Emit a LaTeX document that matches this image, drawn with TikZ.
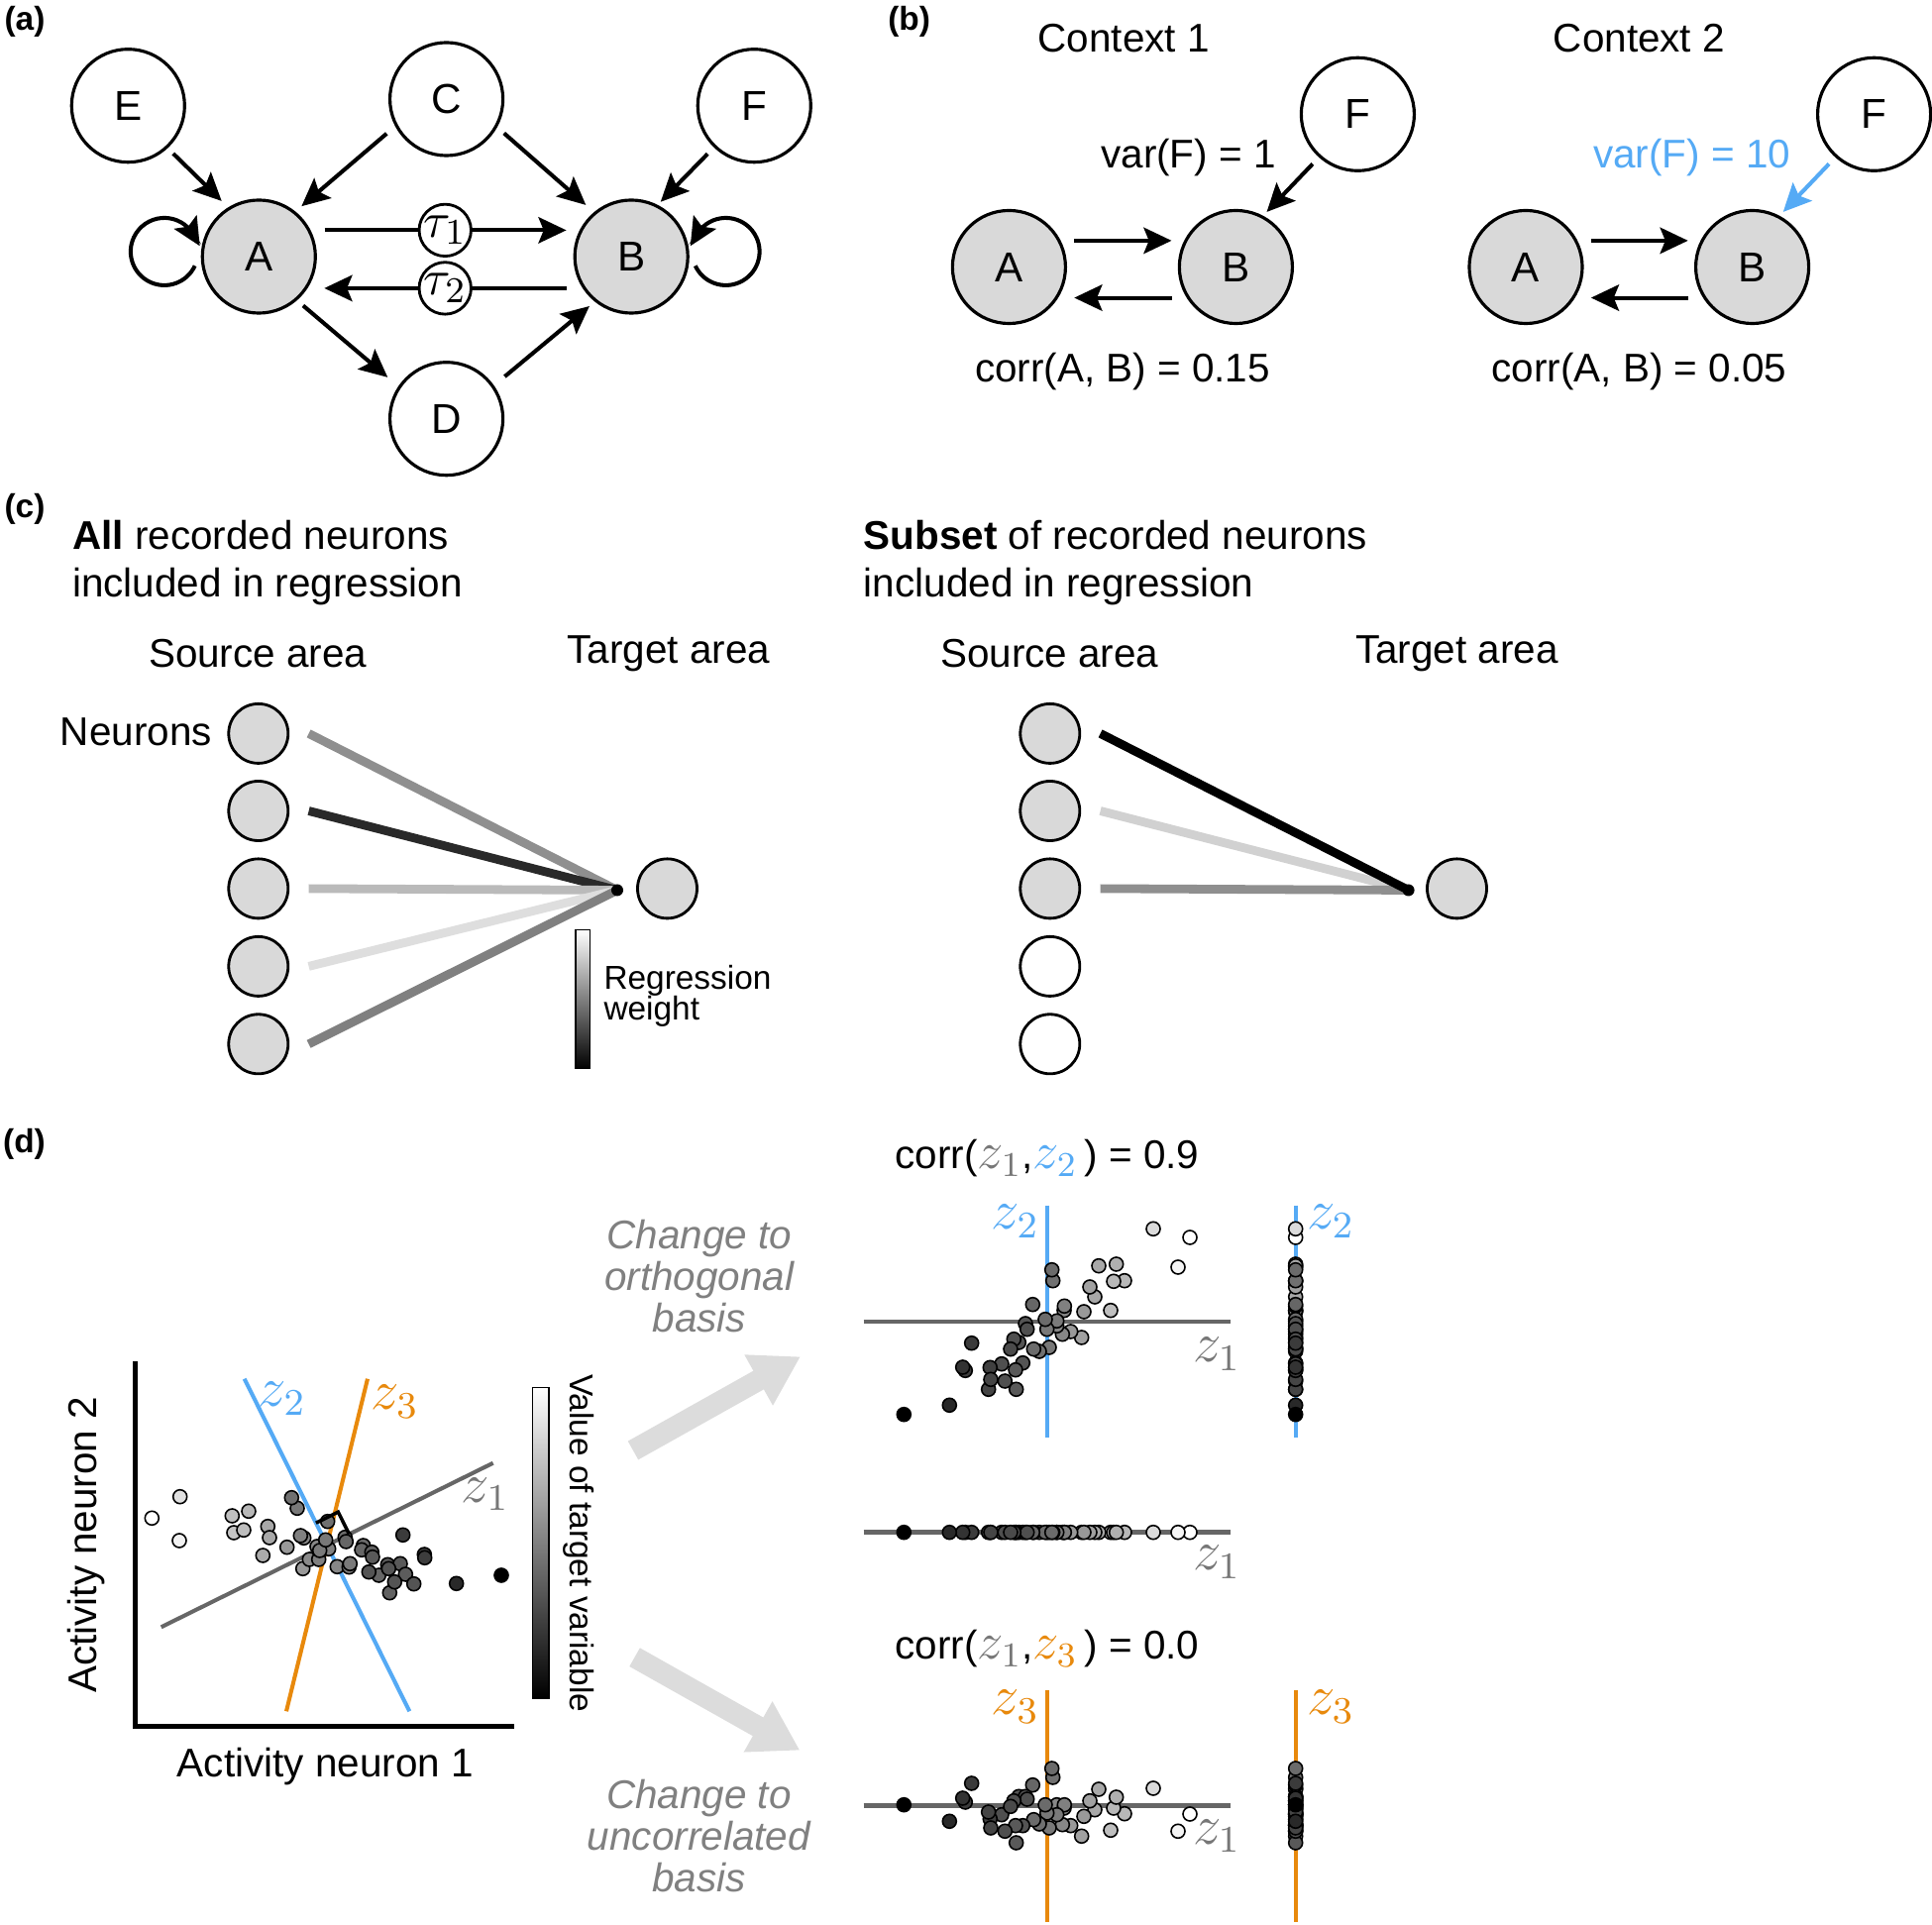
\documentclass[tikz,border=0pt]{standalone}
\usepackage[no-math]{fontspec}
\usepackage{graphicx}
\setmainfont{Liberation Sans}
\usetikzlibrary{arrows.meta,calc}
\definecolor{ngray}{HTML}{D9D9D9}
\definecolor{zblue}{HTML}{55AAF5}
\definecolor{zorange}{HTML}{E8890C}
\definecolor{zgray}{HTML}{666666}
\definecolor{zlgray}{HTML}{777777}
\definecolor{lgray}{HTML}{DCDCDC}
\definecolor{tgray}{HTML}{808080}
\newcommand{\mz}[2]{\textcolor{#1}{\scalebox{1.25}{$z_{#2}$}}}
\newcommand{\mt}[1]{\scalebox{1.3}{$\tau_{#1}$}}
\tikzset{
 lbl/.style={font=\fontsize{11.5}{13.8}\selectfont, inner sep=0pt},
 panel/.style={font=\fontsize{9.5}{11}\selectfont\bfseries, inner sep=0pt},
 smalltxt/.style={font=\fontsize{9.5}{11.4}\selectfont, inner sep=0pt},
 varnode/.style={circle, draw, line width=0.9pt, minimum size=1.14cm, inner sep=0pt, font=\fontsize{12}{14}\selectfont},
 obsnode/.style={varnode, fill=ngray},
 taunode/.style={circle, draw, fill=white, line width=0.8pt, minimum size=0.42cm, inner sep=0pt, font=\fontsize{11}{13}\selectfont},
 arr/.style={line width=1.15pt, -{Stealth[length=8pt,width=7.5pt,inset=1.5pt]}},
 neuron/.style={circle, draw, line width=0.8pt, fill=ngray, minimum size=0.6cm, inner sep=0pt},
 eneuron/.style={neuron, fill=white},
 wline/.style={line width=2.5pt},
 dotn/.style={circle, fill=black, minimum size=0.12cm, inner sep=0pt},
 cbar/.style={draw=black, line width=0.4pt},
 axisline/.style={line width=1.2pt},
 zline/.style={line width=1.15pt},
 zlab/.style={font=\fontsize{12}{14}\selectfont, inner sep=0pt, scale=1.35},
 bigarrow/.style={draw=lgray, line width=6.1pt, -{Triangle[length=13.8pt,width=15.7pt]}},
 ital/.style={font=\fontsize{11.5}{12}\selectfont\itshape, text=tgray, align=center, inner sep=0pt},
 dpt/.style={draw=black, line width=0.45pt},
}
\begin{document}
\begin{tikzpicture}[x=0.01cm,y=0.01cm]
\path[fill=white] (0,0) rectangle (1950,-1943);
\useasboundingbox (0,0) rectangle (1950,-1943);

%% ---------------- panel (a)
\node[panel] (la) at (25,-21.7) {(a)};
\node[varnode] (E) at (129.3,-106.7) {E};
\node[varnode] (C) at (450.6,-100) {C};
\node[varnode] (F) at (761.3,-106.7) {F};
\node[obsnode] (A) at (261.3,-259) {A};
\node[obsnode] (B) at (637.2,-259) {B};
\node[varnode] (D) at (450.6,-422.7) {D};

\draw[arr, shorten <=2.2pt, shorten >=2.6pt] (E.313) -- (A.122);
\draw[arr, shorten <=3.2pt, shorten >=2.3pt] (C.208) -- (A.51);
\draw[arr, shorten <=2.6pt, shorten >=3.1pt] (C.331) -- (B.130);
\draw[arr, shorten <=2.6pt, shorten >=1.2pt] (F.226) -- (B.63);
\draw[arr, shorten <=2.3pt, shorten >=4pt] (A.311) -- (D.146);
\draw[arr, shorten <=4pt, shorten >=2pt] (D.35) -- (B.231);
\draw[arr, shorten <=4pt, shorten >=3.8pt] (A.27) -- (B.153);
\draw[arr, shorten <=4.7pt, shorten >=4.8pt] (B.-147) -- (A.-33);
\node[taunode] (t1) at ($(A.27)!0.5!(B.153)$) {\mt{1}};
\node[taunode] (t2) at ($(A.-33)!0.5!(B.-147)$) {\mt{2}};
\draw[arr] ([shift={(-64.6,-9.3)}]A.center) arc[start angle=-25, end angle=-320, radius=34] -- ([shift={(-59.6,10.7)}]A.center);
\draw[arr] ([shift={(64.6,-9.3)}]B.center) arc[start angle=205, end angle=500, radius=34] -- ([shift={(59.6,10.7)}]B.center);

%% ---------------- panel (b)
\node[panel] (lb) at (917.6,-22) {(b)};
\node[lbl] (ctx1) at (1134.3,-39) {Context 1};
\node[lbl] (ctx2) at (1654.4,-39) {Context 2};
\node[varnode] (F1) at (1370.4,-115.3) {F};
\node[obsnode] (A1) at (1018.4,-269.5) {A};
\node[obsnode] (B1) at (1247.4,-269.5) {B};
\node[varnode] (F2) at (1891.6,-115.3) {F};
\node[obsnode] (A2) at (1540,-269.5) {A};
\node[obsnode] (B2) at (1768.6,-269.5) {B};
\draw[arr, shorten <=3.9pt, shorten >=3.6pt] (A1.27) -- (B1.153);
\draw[arr, shorten <=4.3pt, shorten >=4.6pt] (B1.-148) -- (A1.-32);
\draw[arr, shorten <=2.6pt, shorten >=1.5pt] (F1.228) -- (B1.62);
\draw[arr, shorten <=3.9pt, shorten >=3.6pt] (A2.27) -- (B2.153);
\draw[arr, shorten <=4.3pt, shorten >=4.6pt] (B2.-148) -- (A2.-32);
\draw[arr, color=zblue, shorten <=2.6pt, shorten >=1.5pt] (F2.228) -- (B2.62);
\node[lbl] (v1) at (1199.5,-159) {var(F) = 1};
\node[lbl, text=zblue] (v2) at (1707.7,-159) {var(F) = 10};
\node[lbl] (c1) at (1132.9,-374.6) {corr(A, B) = 0.15};
\node[lbl] (c2) at (1654.4,-374.6) {corr(A, B) = 0.05};

%% ---------------- panel (c)
\node[panel] (lc) at (25,-513.5) {(c)};
\node[lbl, anchor=west] (h1a) at (72.6,-540.4) {\textbf{All} recorded neurons};
\node[lbl, anchor=west] (h1b) at (72.6,-592.3) {included in regression};
\node[lbl, anchor=west] (h2a) at (871.2,-540.4) {\textbf{Subset} of recorded neurons};
\node[lbl, anchor=west] (h2b) at (871.2,-592.3) {included in regression};
\node[lbl] (src1) at (260.2,-659.6) {Source area};
\node[lbl] (tgt1) at (675,-659.6) {Target area};
\node[lbl] (src2) at (1059.3,-659.6) {Source area};
\node[lbl] (tgt2) at (1470.5,-659.6) {Target area};
\node[lbl, anchor=east] (neu) at (214.5,-738.5) {Neurons};

\foreach \i/\y in {1/740.4,2/818.5,3/896.9,4/975.4,5/1053.8}{
  \node[neuron] (n\i) at (260.8,-\y) {};
}
\node[neuron] (m1) at (1059.8,-740.4) {};
\node[neuron] (m2) at (1059.8,-818.5) {};
\node[neuron] (m3) at (1059.8,-896.9) {};
\node[eneuron] (m4) at (1059.8,-975.4) {};
\node[eneuron] (m5) at (1059.8,-1053.8) {};
\node[neuron] (tg1) at (673.5,-896.9) {};
\node[neuron] (tg2) at (1470.5,-896.9) {};
\coordinate (j1) at (623,-898.5);
\coordinate (j2) at (1421.6,-898.5);
\draw[wline, color=black!44] ([xshift=0.194cm]n1.east) -- (j1);
\draw[wline, color=black!84] ([xshift=0.194cm]n2.east) -- (j1);
\draw[wline, color=black!27] ([xshift=0.194cm]n3.east) -- (j1);
\draw[wline, color=black!13] ([xshift=0.194cm]n4.east) -- (j1);
\draw[wline, color=black!50] ([xshift=0.194cm]n5.east) -- (j1);
\draw[wline, color=black!18] ([xshift=0.194cm]m2.east) -- (j2);
\draw[wline, color=black!44] ([xshift=0.194cm]m3.east) -- (j2);
\draw[wline, color=black] ([xshift=0.194cm]m1.east) -- (j2);
\node[dotn] (d1) at (j1) {};
\node[dotn] (d2) at (j2) {};
\shade[top color=white, bottom color=black] (581,-938.5) rectangle (595.7,-1078.8);
\draw[cbar] (581,-938.5) rectangle (595.7,-1078.8);
\node[smalltxt, anchor=west] (rw1) at (608.8,-990) {Regression};
\node[smalltxt, anchor=west] (rw2) at (608.8,-1021) {weight};

%% ---------------- panel (d)
\node[panel] (ld) at (24.5,-1155.3) {(d)};
\draw[axisline] (136.4,-1374) -- (136.4,-1742.4) -- (519,-1742.4);
\node[lbl, rotate=90] (ay) at (87,-1559.3) {Activity neuron 2};
\node[lbl] (ax) at (328.3,-1783.3) {Activity neuron 1};
\shade[top color=white, bottom color=black] (537.5,-1400.6) rectangle (554.2,-1714.2);
\draw[cbar] (537.5,-1400.6) rectangle (554.2,-1714.2);
\node[smalltxt, rotate=-90] (vtv) at (584.2,-1557.6) {Value of target variable};

\draw[zline, zgray] (162.7,-1642.3) -- (497.7,-1476.7);
\draw[zline, zblue] (246.7,-1391.7) -- (413.3,-1727.3);
\draw[zline, zorange] (371,-1391.7) -- (289,-1727.3);
\node[zlab, text=zblue] (lz2) at (285,-1411.7) {$z_2$};
\node[zlab, text=zorange] (lz3) at (398.7,-1415) {$z_3$};
\node[zlab, text=zlgray] (lz1) at (490,-1508.3) {$z_1$};

\foreach \x/\y/\k in {153.3/1532.3/0, 181/1555/5, 181.7/1510.7/12, 236/1547/23, 234.3/1530/25,
 246/1544.3/26, 251/1525.3/28, 265.3/1570/33, 270.3/1540.7/34, 272/1552/34, 289.7/1561.7/40,
 305.7/1583.3/40, 306.7/1552.3/47, 312.3/1574/46, 320/1561/47, 340.3/1581.3/47, 303.3/1550/50,
 321.7/1574/50, 331.7/1563.3/50, 352.3/1581.7/50, 322.7/1565/52, 353.3/1578.3/52, 300/1522.3/53,
 328.7/1554.3/53, 294.3/1511.7/56, 330.7/1535.7/56, 348.3/1551.7/58, 366.7/1560/58, 349.3/1556/60,
 365/1564.3/60, 382.3/1590/60, 375.3/1566.7/62, 393.3/1607.7/62, 376/1571.7/65, 391.3/1579.3/65,
 404/1578.3/65, 409.3/1589/64, 392.3/1583.3/67, 372.3/1586.7/67, 398.3/1596.7/67, 417.7/1598.7/67,
 406.7/1549.3/77, 428.3/1569/77, 428.7/1572.3/76, 460.7/1598.3/84, 506/1590/100}{
  \filldraw[dpt, fill=black!\k] (\x,-\y) circle[radius=7];
}
\draw[line width=1pt, line join=miter] (318.9,-1537.2) -- (341.3,-1526.1) -- (352.4,-1548.5);

\draw[bigarrow] (639,-1464) -- (808,-1369.3);
\draw[bigarrow] (640.6,-1672.7) -- (807.4,-1766.7);
\node[ital] (ch1) at (705.8,-1288) {Change to\\orthogonal\\basis};
\node[ital] (ch2) at (705.4,-1853.3) {Change to\\uncorrelated\\basis};

\node[lbl] (cz12) at (1057,-1169) {corr(\mz{zlgray}{1},\mz{zblue}{2}\,) = 0.9};
\node[lbl] (cz13) at (1057,-1664) {corr(\mz{zlgray}{1},\mz{zorange}{3}\,) = 0.0};

\draw[zline, zgray, line width=1.3pt] (871.7,-1334) -- (1241.7,-1334);
\draw[zline, zblue] (1056.7,-1216.7) -- (1056.7,-1450.7);
\draw[zline, zblue] (1307.7,-1216.7) -- (1307.7,-1450.7);
\draw[zline, zgray, line width=1.3pt] (871.7,-1546.7) -- (1241.7,-1546.7);
\draw[zline, zgray, line width=1.3pt] (871.7,-1822.7) -- (1241.7,-1822.7);
\draw[zline, zorange] (1056.7,-1705.7) -- (1056.7,-1940);
\draw[zline, zorange] (1307.7,-1705.7) -- (1307.7,-1940);
\node[zlab, text=zblue] (uz2) at (1025,-1233) {$z_2$};
\node[zlab, text=zlgray] (uz1) at (1228.3,-1366.7) {$z_1$};
\node[zlab, text=zblue] (mz2) at (1343.3,-1233) {$z_2$};
\node[zlab, text=zlgray] (sz1) at (1228.3,-1576.7) {$z_1$};
\node[zlab, text=zorange] (wz3) at (1025,-1723) {$z_3$};
\node[zlab, text=zlgray] (wz1) at (1228.3,-1853.3) {$z_1$};
\node[zlab, text=zorange] (rz3) at (1343.3,-1723) {$z_3$};

\foreach \x/\yu/\yl/\k in {1201/1249/1831/0, 1189/1279/1848.3/4, 1164/1240.3/1805/14,
 1121/1322.7/1847.3/25, 1135/1292.7/1830.7/28, 1124/1293.3/1825/28, 1126.7/1276/1814/31,
 1109/1277.7/1806/34, 1105/1309/1826.7/34, 1100/1299/1817.7/37, 1091.7/1350/1853.3/37,
 1094/1324/1833.3/40, 1080.7/1344/1842.7/40, 1072.3/1346.7/1841.7/47, 1066.7/1338.3/1821.7/47,
 1074/1322.7/1825/47, 1074.3/1318.3/1821.7/50, 1066.7/1333.3/1831.7/52, 1059/1360/1845/53,
 1056.7/1341.7/1830/53, 1049/1364/1841/56, 1062.7/1292.7/1794/56, 1043.3/1361.7/1836.7/58,
 1055/1331.7/1821.7/58, 1061.7/1281.7/1785/58, 1042.3/1316.7/1801.7/60, 1028.3/1355/1813.3/67,
 1035/1336/1813.3/67, 1032.3/1375.7/1842.7/67, 1025.7/1402.3/1860/65, 1025/1382.7/1842.7/65,
 1036.7/1341.7/1816/69, 1023.3/1351.7/1817.7/69, 1011/1376.7/1831.7/69, 1014.3/1394/1848.3/69,
 1020/1361.7/1823.3/71, 999.3/1380.3/1836/75, 997.7/1402.3/1829/73, 1000/1392.3/1845/73,
 974.3/1383.3/1819/77, 980.7/1355.7/1800/77, 971.7/1380/1815/80, 958.3/1418.3/1838.3/84,
 912.3/1427.7/1821.7/100}{
  \filldraw[dpt, fill=black!\k] (\x,-\yu) circle[radius=7];
  \filldraw[dpt, fill=black!\k] (\x,-\yl) circle[radius=7];
  \filldraw[dpt, fill=black!\k] (\x,-1546.7) circle[radius=7];
  \filldraw[dpt, fill=black!\k] (1307.7,-\yu) circle[radius=7];
  \filldraw[dpt, fill=black!\k] (1307.7,-\yl) circle[radius=7];
}
\end{tikzpicture}
\end{document}
